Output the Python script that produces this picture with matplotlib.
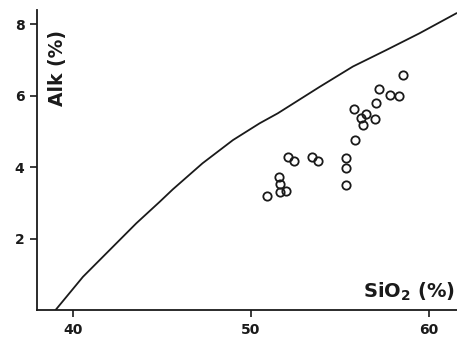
import matplotlib.pyplot as plt
import numpy as np

# boundary curve
curve_sio2 = [39.04, 40.58, 42.08, 43.58, 44.89, 45.63, 47.30, 49.01, 50.51,
              51.53, 53.88, 55.75, 57.62, 59.49, 61.56]
curve_alk = [0.0, 0.93, 1.68, 2.43, 3.03, 3.38, 4.11, 4.76, 5.23,
             5.51, 6.25, 6.82, 7.28, 7.75, 8.31]

# samples
sio2 = [58.56, 57.21, 57.85, 58.35, 57.06, 55.84, 56.50, 56.18, 57.02, 56.29,
        55.88, 52.12, 52.43, 53.47, 53.78, 55.34, 55.34, 55.39, 51.61, 51.65,
        51.63, 51.98, 50.92]
alk = [6.58, 6.19, 6.02, 6.00, 5.79, 5.64, 5.49, 5.37, 5.36, 5.17,
       4.75, 4.29, 4.18, 4.29, 4.18, 4.25, 3.98, 3.51, 3.73, 3.53,
       3.31, 3.32, 3.19]

xticks = [40, 50, 60]
yticks = [2, 4, 6, 8]

plt.rcParams['font.family'] = ['DejaVu Sans']
fig = plt.figure(figsize=(4.57, 3.37), dpi=100)
ax = fig.add_axes([0.081, 0.080, 0.919, 0.890])

ax.plot(curve_sio2, curve_alk, color='#1a1a1a', lw=1.3)
ax.plot(sio2, alk, 'o', mfc='none', mec='#1a1a1a', mew=1.3, ms=6)

ax.set_xlim(38.0, 61.6)
ax.set_ylim(0, 8.4)
ax.set_xticks(xticks)
ax.set_yticks(yticks)
for s in ['top', 'right']:
    ax.spines[s].set_visible(False)
for s in ['left', 'bottom']:
    ax.spines[s].set_linewidth(1.3)
    ax.spines[s].set_color('#1a1a1a')
ax.tick_params(direction='out', length=5, width=1.2, color='#1a1a1a',
               labelsize=10, pad=4)
for t in ax.get_xticklabels() + ax.get_yticklabels():
    t.set_fontweight('bold')
    t.set_color('#1a1a1a')

ax.text(0.048, 0.935, 'Alk (%)', transform=ax.transAxes, rotation=90,
        ha='center', va='top', fontsize=13.5, fontweight='bold', color='#1a1a1a')
ax.text(0.995, 0.04, 'SiO$_\\mathbf{2}$ (%)', transform=ax.transAxes,
        ha='right', va='baseline', fontsize=14, fontweight='bold', color='#1a1a1a')

fig.savefig('out.png', dpi=100)
